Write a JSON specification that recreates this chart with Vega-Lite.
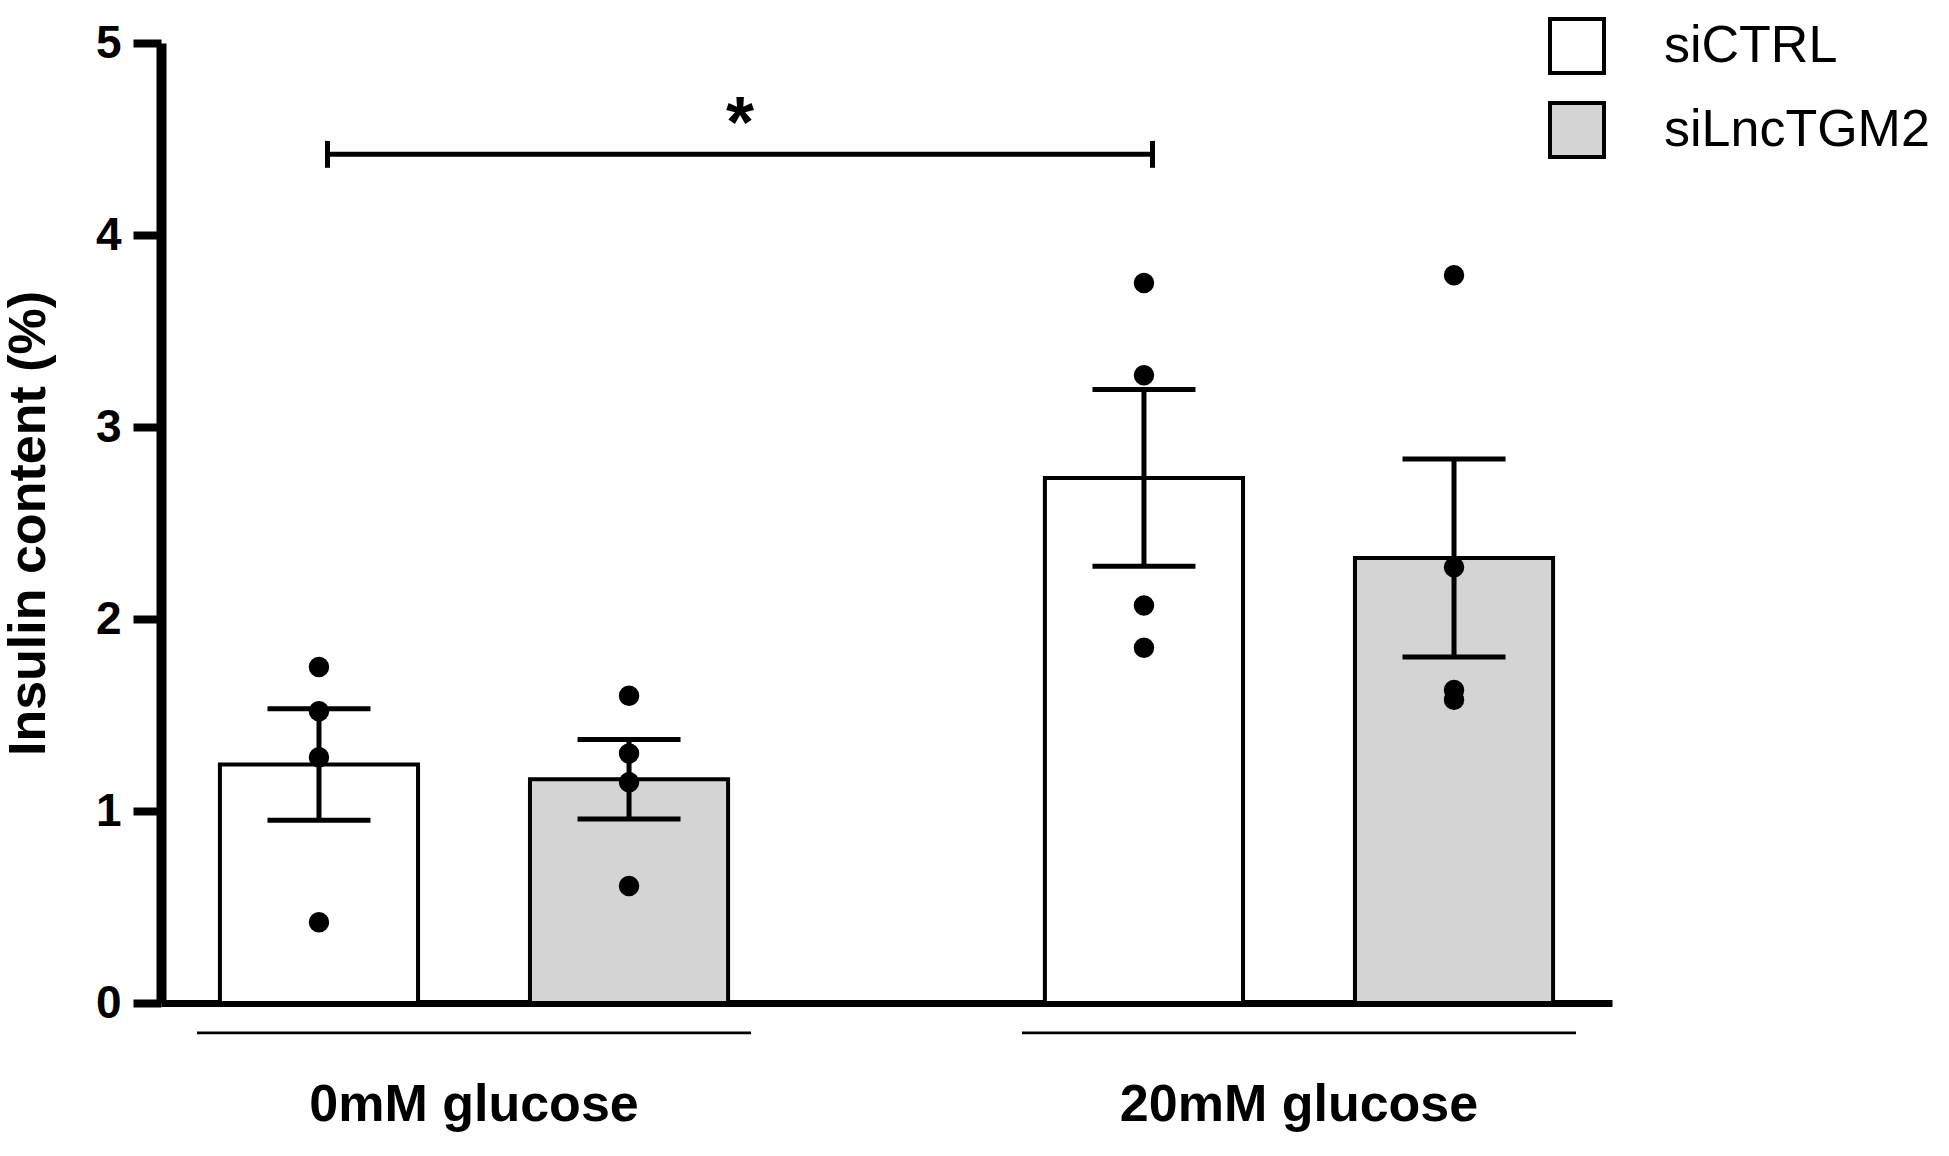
{
  "$schema": "https://vega.github.io/schema/vega-lite/v6.json",
  "width": 1451,
  "height": 960,
  "autosize": {"type": "none"},
  "padding": {"left": 161, "top": 43, "right": 337, "bottom": 153},
  "background": "white",
  "config": {
    "view": {"stroke": null},
    "axis": {"grid": false, "zindex": 1},
    "axisY": {"domainWidth": 10, "domainColor": "black", "tickSize": 28, "tickWidth": 8, "tickColor": "black", "labelFont": "Liberation Sans", "labelFontWeight": "bold", "labelFontSize": 46, "labelColor": "black", "labelPadding": 12, "titleFont": "Liberation Sans", "titleFontWeight": "bold", "titleFontSize": 52, "titleColor": "black", "titlePadding": 40, "format": "d"},
    "axisX": {"domainWidth": 7, "domainColor": "black", "ticks": false, "labelFont": "Liberation Sans", "labelFontWeight": "bold", "labelFontSize": 52, "labelColor": "black", "labelPadding": 76, "labelAngle": 0, "labelLimit": 0},
    "legend": {"orient": "none", "legendX": 1387, "legendY": -26, "symbolType": "square", "symbolSize": 2916, "symbolStrokeColor": "black", "symbolStrokeWidth": 4, "symbolOpacity": 1, "labelFont": "Liberation Sans", "labelFontSize": 52, "labelColor": "black", "labelOffset": 58, "labelLimit": 0, "rowPadding": 14, "padding": 0}
  },
  "datasets": {
    "points": [
      {"group": "0mM glucose", "treatment": "siCTRL", "value": 1.75},
      {"group": "0mM glucose", "treatment": "siCTRL", "value": 1.52},
      {"group": "0mM glucose", "treatment": "siCTRL", "value": 1.28},
      {"group": "0mM glucose", "treatment": "siCTRL", "value": 0.42},
      {"group": "0mM glucose", "treatment": "siLncTGM2", "value": 1.60},
      {"group": "0mM glucose", "treatment": "siLncTGM2", "value": 1.30},
      {"group": "0mM glucose", "treatment": "siLncTGM2", "value": 1.15},
      {"group": "0mM glucose", "treatment": "siLncTGM2", "value": 0.61},
      {"group": "20mM glucose", "treatment": "siCTRL", "value": 3.75},
      {"group": "20mM glucose", "treatment": "siCTRL", "value": 3.27},
      {"group": "20mM glucose", "treatment": "siCTRL", "value": 2.07},
      {"group": "20mM glucose", "treatment": "siCTRL", "value": 1.85},
      {"group": "20mM glucose", "treatment": "siLncTGM2", "value": 3.79},
      {"group": "20mM glucose", "treatment": "siLncTGM2", "value": 2.27},
      {"group": "20mM glucose", "treatment": "siLncTGM2", "value": 1.63},
      {"group": "20mM glucose", "treatment": "siLncTGM2", "value": 1.58}
    ],
    "groups": [{"group": "0mM glucose"}, {"group": "20mM glucose"}],
    "bracket": [{"from": "0mM glucose", "to": "20mM glucose", "label": "*"}]
  },
  "layer": [
    {
      "data": {"name": "points"},
      "mark": {"type": "bar", "stroke": "black", "strokeWidth": 4},
      "encoding": {
        "x": {"field": "group", "type": "nominal", "title": null, "scale": {"domain": ["0mM glucose", "20mM glucose"], "paddingInner": 0.2412, "paddingOuter": 0}},
        "xOffset": {"field": "treatment", "type": "nominal", "scale": {"domain": ["siCTRL", "siLncTGM2"], "paddingInner": 0.361, "paddingOuter": 0.19}},
        "y": {"aggregate": "mean", "field": "value", "type": "quantitative", "title": "Insulin content (%)", "scale": {"domain": [0, 5], "nice": false}, "axis": {"values": [0, 1, 2, 3, 4, 5]}},
        "fill": {"field": "treatment", "type": "nominal", "title": null, "scale": {"domain": ["siCTRL", "siLncTGM2"], "range": ["#ffffff", "#d4d4d4"]}}
      }
    },
    {
      "data": {"name": "points"},
      "mark": {"type": "errorbar", "extent": "stderr", "color": "black", "opacity": 1, "ticks": {"size": 103, "thickness": 5, "color": "black", "opacity": 1}, "rule": {"strokeWidth": 5, "color": "black", "opacity": 1}},
      "encoding": {
        "x": {"field": "group", "type": "nominal", "title": null, "scale": {"domain": ["0mM glucose", "20mM glucose"], "paddingInner": 0.2412, "paddingOuter": 0}},
        "xOffset": {"field": "treatment", "type": "nominal", "scale": {"domain": ["siCTRL", "siLncTGM2"], "paddingInner": 0.361, "paddingOuter": 0.19}},
        "y": {"field": "value", "type": "quantitative", "title": "Insulin content (%)", "scale": {"domain": [0, 5], "nice": false}}
      }
    },
    {
      "data": {"name": "points"},
      "mark": {"type": "circle", "size": 420, "color": "black", "opacity": 1},
      "encoding": {
        "x": {"field": "group", "type": "nominal", "title": null, "scale": {"domain": ["0mM glucose", "20mM glucose"], "paddingInner": 0.2412, "paddingOuter": 0}},
        "xOffset": {"field": "treatment", "type": "nominal", "scale": {"domain": ["siCTRL", "siLncTGM2"], "paddingInner": 0.361, "paddingOuter": 0.19}},
        "y": {"field": "value", "type": "quantitative", "title": "Insulin content (%)", "scale": {"domain": [0, 5], "nice": false}}
      }
    },
    {
      "data": {"name": "groups"},
      "mark": {"type": "bar", "color": "black", "width": {"band": 0.885}},
      "encoding": {
        "x": {"field": "group", "type": "nominal", "title": null, "scale": {"domain": ["0mM glucose", "20mM glucose"], "paddingInner": 0.2412, "paddingOuter": 0}},
        "y": {"datum": -0.148},
        "y2": {"datum": -0.163}
      }
    },
    {
      "data": {"name": "groups"},
      "mark": {"type": "rule", "color": "black", "strokeWidth": 5},
      "encoding": {
        "x": {"field": "group", "type": "nominal", "title": null, "bandPosition": 0.266, "scale": {"domain": ["0mM glucose", "20mM glucose"], "paddingInner": 0.2412, "paddingOuter": 0}},
        "y": {"datum": 4.35},
        "y2": {"datum": 4.49}
      }
    },
    {
      "data": {"name": "bracket"},
      "mark": {"type": "rule", "color": "black", "strokeWidth": 5},
      "encoding": {
        "x": {"field": "from", "type": "nominal", "title": null, "bandPosition": 0.266, "scale": {"domain": ["0mM glucose", "20mM glucose"], "paddingInner": 0.2412, "paddingOuter": 0}},
        "x2": {"field": "to", "bandPosition": 0.266},
        "y": {"datum": 4.42}
      }
    },
    {
      "data": {"name": "bracket"},
      "mark": {"type": "text", "font": "Liberation Sans", "fontWeight": "bold", "fontSize": 72, "color": "black", "baseline": "alphabetic", "align": "center"},
      "encoding": {
        "x": {"field": "from", "type": "nominal", "title": null, "bandPosition": 0.925, "scale": {"domain": ["0mM glucose", "20mM glucose"], "paddingInner": 0.2412, "paddingOuter": 0}},
        "y": {"datum": 4.46},
        "text": {"field": "label"}
      }
    }
  ]
}
